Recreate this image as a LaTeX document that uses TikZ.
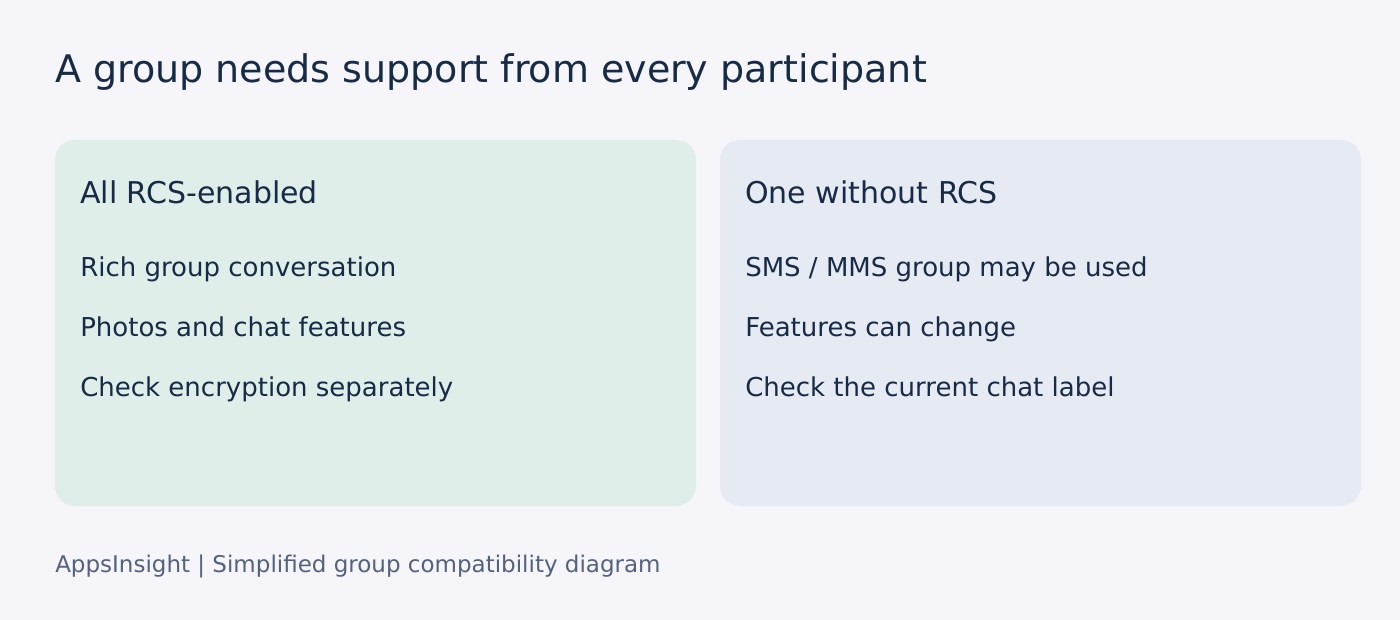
\documentclass[tikz,border=0pt]{standalone}
\usepackage{fontspec}
\setmainfont{DejaVu Sans}
\definecolor{pagebg}{HTML}{F5F5FA}
\definecolor{inkdark}{HTML}{172A46}
\definecolor{inkgrey}{HTML}{53627F}
\definecolor{greencard}{HTML}{E0EEEA}
\definecolor{bluecard}{HTML}{E6EAF3}
\tikzset{
	txt/.style={anchor=base west, inner sep=0pt, text=inkdark},
	card/.style={rounded corners=15pt, draw=none}
}
\begin{document}
\begin{tikzpicture}[x=0.75pt, y=-0.75pt]
		%--page
		\fill[pagebg] (0,0) rectangle (1400,620);
		\useasboundingbox (0,0) rectangle (1400,620);
		\node[txt, font=\fontsize{28.5}{34}\selectfont] (title) at (55,83) {A group needs support from every participant};
		
		%--card all RCS
		\fill[card, greencard] (55,140) rectangle (696,506);
		\node[txt, font=\fontsize{22.5}{27}\selectfont] (allhead) at (80,204) {All RCS-enabled};
		\foreach \t [count=\i] in {Rich group conversation, Photos and chat features, Check encryption separately}
			\node[txt, font=\fontsize{19.5}{23}\selectfont] (all\i) at (80,216.5+60*\i) {\t};
		
		%--card one without RCS
		\fill[card, bluecard] (720,140) rectangle (1361,506);
		\node[txt, font=\fontsize{22.5}{27}\selectfont] (onehead) at (745,204) {One without RCS};
		\foreach \t [count=\i] in {SMS / MMS group may be used, Features can change, Check the current chat label}
			\node[txt, font=\fontsize{19.5}{23}\selectfont] (one\i) at (745,216.5+60*\i) {\t};
		
		%--footer
		\node[txt, text=inkgrey, font=\fontsize{17.25}{21}\selectfont] (footer) at (55,572.5) {AppsInsight | Simplified group compatibility diagram};
	\end{tikzpicture}
\end{document}
